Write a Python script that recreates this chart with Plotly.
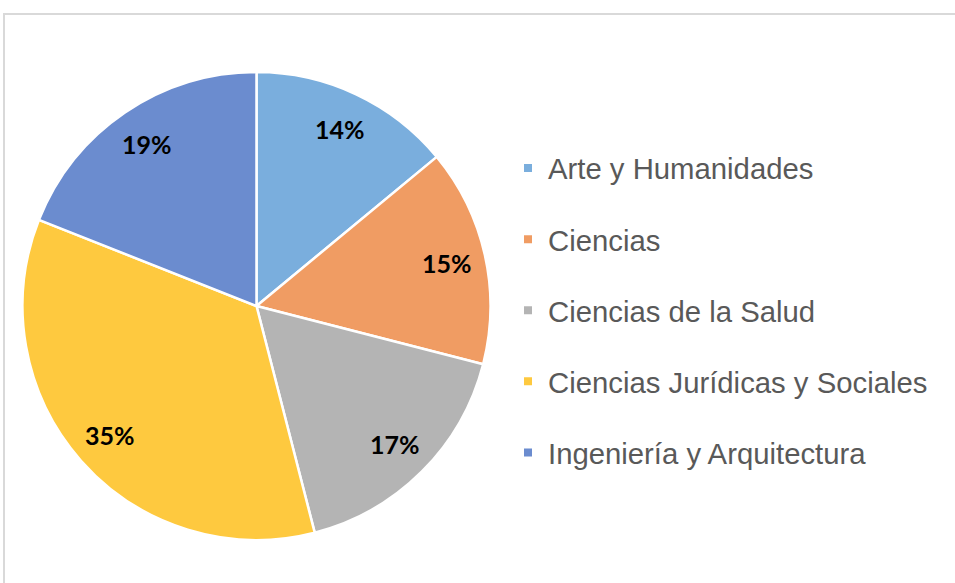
import math
import plotly.graph_objects as go

categories = ["Arte y Humanidades", "Ciencias", "Ciencias de la Salud",
              "Ciencias Jurídicas y Sociales", "Ingeniería y Arquitectura"]
values = [14, 15, 17, 35, 19]
colors = ["#7aaedd", "#f09c63", "#b4b4b4", "#fec93f", "#6b8ccf"]

W, H = 955, 583
dom_x = [22 / W, 491 / W]
dom_y = [1 - 540 / H, 1 - 72 / H]

fig = go.Figure()
fig.add_trace(go.Pie(
    labels=categories, values=values, sort=False, direction="clockwise",
    rotation=0, marker=dict(colors=colors, line=dict(color="white", width=2.5)),
    textinfo="none",
    domain=dict(x=dom_x, y=dom_y),
    showlegend=False, hoverinfo="label+percent",
))
for i, (c, col) in enumerate(zip(categories, colors)):
    fig.add_trace(go.Scatter(
        x=[None], y=[None], mode="markers", name=c, legendgroup=str(i),
        marker=dict(symbol="square", size=8, color=col),
    ))

# percentage labels placed at the slice mid-angles, derived from the values
total = sum(values)
cx_px = (dom_x[0] + dom_x[1]) / 2 * W
cy_px = (dom_y[0] + dom_y[1]) / 2 * H
r_px = min((dom_x[1] - dom_x[0]) * W, (dom_y[1] - dom_y[0]) * H) / 2
annotations = []
cum = 0
for v in values:
    mid = (cum + v / 2) / total * 2 * math.pi
    cum += v
    x = cx_px + 0.835 * r_px * math.sin(mid)
    y = cy_px + 0.835 * r_px * math.cos(mid)
    annotations.append(dict(
        x=x / W, y=y / H, xref="paper", yref="paper", showarrow=False,
        xanchor="center", yanchor="middle",
        text=f"{v / total * 100:.0f}%",
        font=dict(family="Lato", size=25, color="black", weight="bold"),
    ))

fig.update_layout(
    width=W, height=H, margin=dict(l=0, r=0, t=0, b=0),
    paper_bgcolor="white", plot_bgcolor="white",
    xaxis=dict(visible=False), yaxis=dict(visible=False),
    annotations=annotations,
    legend=dict(x=508 / W, y=0.4674, xanchor="left", yanchor="middle",
                font=dict(family="Liberation Sans", size=29.3, color="#595959"),
                tracegroupgap=30, bgcolor="rgba(0,0,0,0)"),
    shapes=[dict(type="rect", xref="paper", yref="paper",
                 x0=4 / W, x1=1.1, y0=-0.1, y1=1 - 14 / H,
                 line=dict(color="#d9d9d9", width=2), layer="below")],
)
fig.write_html("out.html", config={"displayModeBar": False},
               post_script="document.body.style.margin='0';document.body.style.overflow='hidden';")
